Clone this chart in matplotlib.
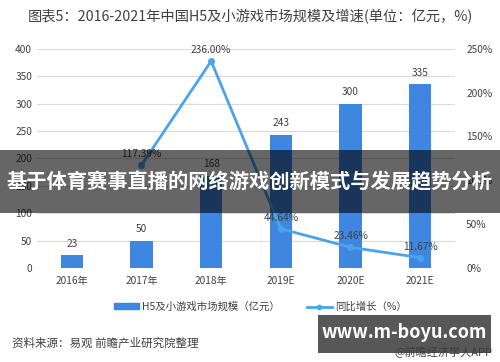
import matplotlib.pyplot as plt
from matplotlib.lines import Line2D
from matplotlib.patches import Patch, Rectangle

plt.rcParams['font.family'] = ['Noto Sans CJK SC', 'DejaVu Sans']

years = ['2016年', '2017年', '2018年', '2019E', '2020E', '2021E']
market_size = [23, 50, 168, 243, 300, 335]
growth = [None, 117.39, 236.00, 44.64, 23.46, 11.67]

bar_color = '#3f86e0'
line_color = '#4ba3ea'
text_color = '#404040'

fig = plt.figure(figsize=(5, 3.62), dpi=100)
ax = fig.add_axes([0.074, 0.26, 0.836, 0.605])
x = list(range(len(years)))

ax.bar(x, market_size, width=0.32, color=bar_color, zorder=2)
for xi, v in zip(x, market_size):
    ax.text(xi, v + 12, str(v), ha='center', va='bottom', fontsize=7.3, color=text_color)

ax.set_ylim(0, 400)
ax.set_yticks(range(0, 401, 50))
ax.set_xlim(-0.5, 5.5)
ax.set_xticks(x)
ax.set_xticklabels(years)
ax.grid(axis='y', color='#d9d9d9', linewidth=0.8, zorder=0)
for s in ax.spines.values():
    s.set_visible(False)
ax.tick_params(length=0, labelsize=7.3, colors=text_color)
ax.tick_params(axis='x', pad=6)

ax2 = ax.twinx()
gx = [xi for xi, g in zip(x, growth) if g is not None]
gy = [g for g in growth if g is not None]
ax2.plot(gx, gy, color=line_color, linewidth=2, marker='o', markersize=4, zorder=3)
for xi, g in zip(gx, gy):
    ax2.text(xi, g + 7, f'{g:.2f}%', ha='center', va='bottom', fontsize=7.3, color=text_color)
ax2.set_ylim(0, 250)
ax2.set_yticks(range(0, 251, 50))
ax2.set_yticklabels([f'{v}%' for v in range(0, 251, 50)])
for s in ax2.spines.values():
    s.set_visible(False)
ax2.tick_params(length=0, labelsize=7.3, colors=text_color, pad=8)

fig.text(0.5, 0.953, '图表5：2016-2021年中国H5及小游戏市场规模及增速(单位：亿元，%)',
         ha='center', va='center', fontsize=10.3, color=text_color)

handles = [Patch(color=bar_color),
           Line2D([0], [0], color=line_color, linewidth=2, marker='o', markersize=3)]
fig.legend(handles, ['H5及小游戏市场规模（亿元）', '同比增长（%）'], loc='center',
           bbox_to_anchor=(0.52, 0.152), ncol=2, frameon=False, fontsize=7.5,
           handlelength=2.4, handleheight=0.5, handletextpad=0.3, columnspacing=2.6,
           labelcolor=text_color)

fig.text(0.024, 0.052, '资料来源：易观 前瞻产业研究院整理', ha='left', va='center',
         fontsize=8.3, color=text_color)
fig.text(0.985, 0.028, '@前瞻经济学人APP', ha='right', va='center', fontsize=8, color=text_color)

# overlay banner
fig.patches.append(Rectangle((0, 1 - 213 / 362), 1, 63 / 362, transform=fig.transFigure,
                             facecolor='black', alpha=0.6, zorder=10))
fig.text(0.5, 1 - 182 / 362, '基于体育赛事直播的网络游戏创新模式与发展趋势分析',
         ha='center', va='center', fontsize=14.6, fontweight='bold', color='white', zorder=11)

fig.patches.append(Rectangle((318 / 500, 1 - 353 / 362), 173 / 500, 38 / 362,
                             transform=fig.transFigure, facecolor='#3a3a3a', alpha=0.85, zorder=10))
fig.text(404 / 500, 1 - 333 / 362, 'www.m-boyu.com', ha='center', va='center',
         fontsize=13, fontweight='bold', color='white', zorder=11)

fig.savefig('out.png', dpi=100)
